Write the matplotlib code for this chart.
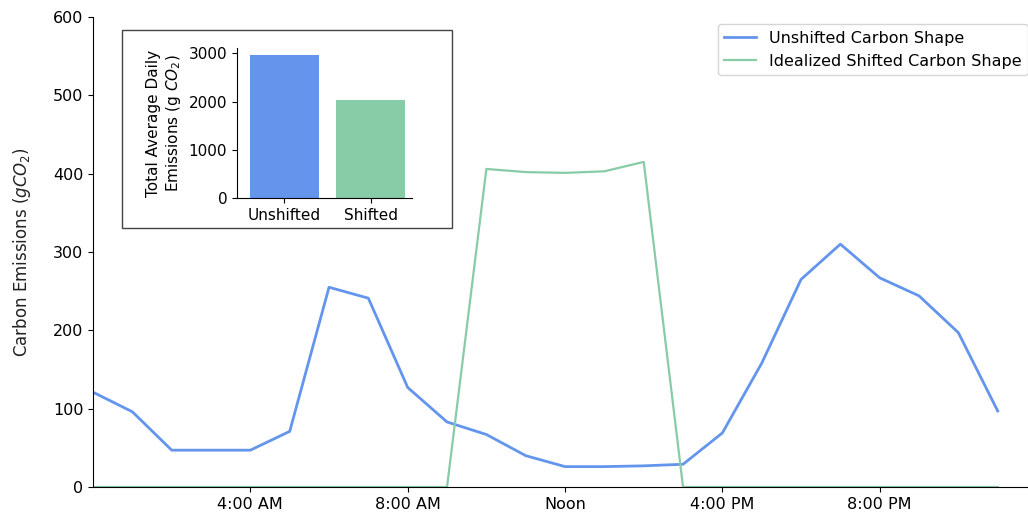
import numpy as np
import matplotlib.pyplot as plt
from matplotlib.patches import Rectangle

hours = list(range(24))
unshifted = [121, 96, 47, 47, 47, 71, 255, 241, 127, 83, 67, 40,
             26, 26, 27, 29, 69, 158, 265, 310, 267, 244, 197, 97]
shifted = [0, 0, 0, 0, 0, 0, 0, 0, 0, 0, 406, 402,
           401, 403, 415, 0, 0, 0, 0, 0, 0, 0, 0, 0]
tick_hours = [4, 8, 12, 16, 20]
tick_labels = ["4:00 AM", "8:00 AM", "Noon", "4:00 PM", "8:00 PM"]
bar_labels = ["Unshifted", "Shifted"]

blue = "#6495ed"
green = "#88cba7"

fig = plt.figure(figsize=(10.28, 5.15), dpi=100)
ax = fig.add_axes([0.0905, 0.0544, 0.9095, 0.9126])

ax.plot(hours, unshifted, color=blue, lw=2, label="Unshifted Carbon Shape")
ax.plot(hours, shifted, color=green, lw=1.6, label="Idealized Shifted Carbon Shape")
ax.set_xlim(0, 23.77)
ax.set_ylim(0, 600)
ax.set_xticks(tick_hours)
ax.set_xticklabels(tick_labels)
ax.set_ylabel("Carbon Emissions ($gCO_2$)", fontsize=12, labelpad=14, color="#222222")
ax.tick_params(labelsize=11.5)
ax.spines["top"].set_visible(False)
ax.spines["right"].set_visible(False)

ax.legend(loc="upper left", bbox_to_anchor=(0.698, 0.953), borderaxespad=0,
          bbox_transform=fig.transFigure, fontsize=11.5)

# inset bar chart with totals
totals = [sum(unshifted), sum(shifted)]
ins = fig.add_axes([0.2305, 0.615, 0.1702, 0.2913])
ins.bar(bar_labels, totals, color=[blue, green], width=0.8)
ins.set_xlim(-0.55, 1.48)
ins.set_ylabel("Total Average Daily\nEmissions (g $CO_2$)", fontsize=11)
ins.tick_params(labelsize=11)
ins.spines["top"].set_visible(False)
ins.spines["right"].set_visible(False)

fig.patches.append(Rectangle((0.1184, 0.5567), 0.3216, 0.385, transform=fig.transFigure,
                             fill=False, edgecolor="#444444", lw=1))

fig.savefig("out.png", dpi=100)
